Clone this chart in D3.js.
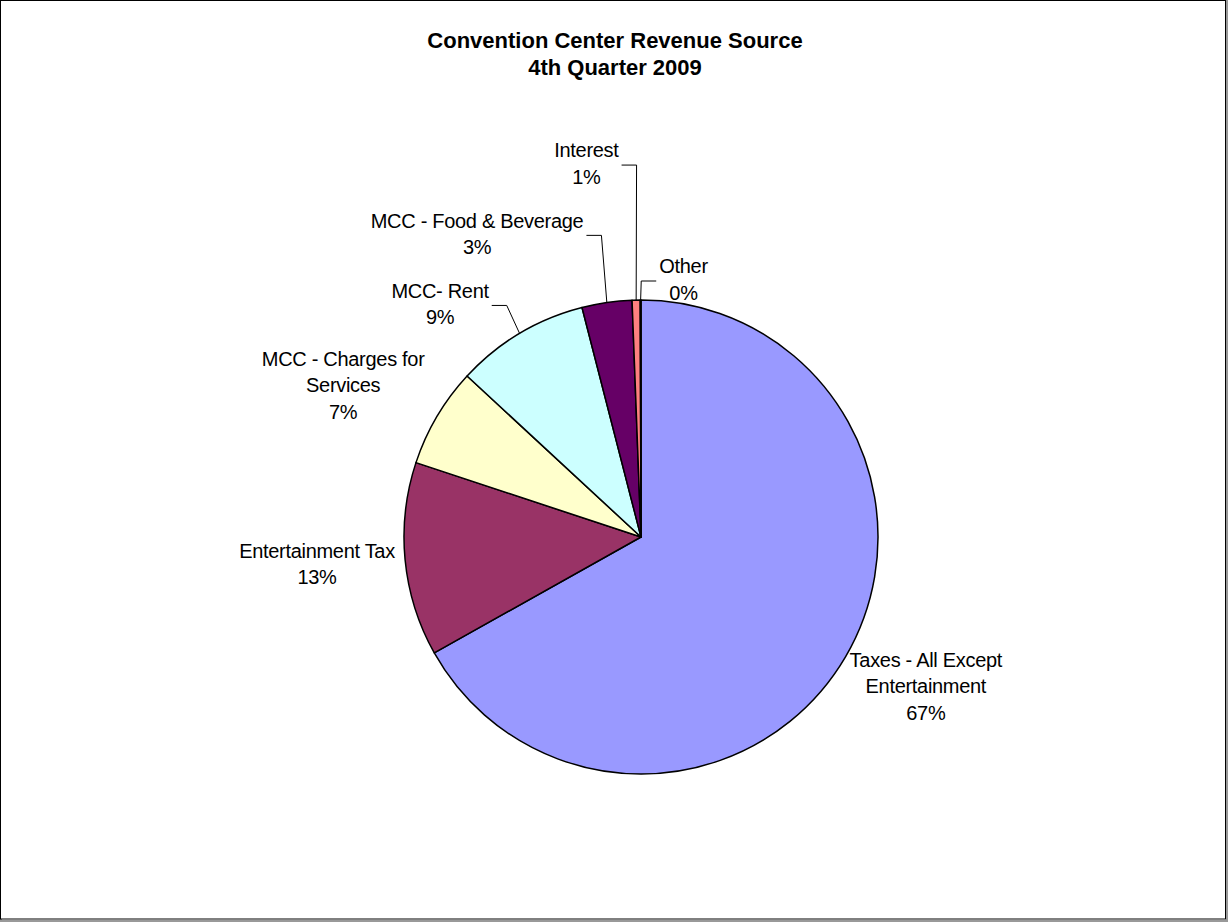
<!DOCTYPE html>
<html>
<head>
<meta charset="utf-8">
<script src="https://cdn.jsdelivr.net/npm/d3@7"></script>
<style>
  body { margin: 0; background: #ffffff; }
  svg text { font-family: "Liberation Sans", Arial, sans-serif; fill: #000; }
</style>
</head>
<body>
<div id="chart"></div>
<script>
// Data
const titleLines = ['Convention Center Revenue Source', '4th Quarter 2009'];
const categories = [
  'Taxes - All Except\nEntertainment',
  'Entertainment Tax',
  'MCC - Charges for\nServices',
  'MCC- Rent',
  'MCC - Food & Beverage',
  'Interest',
  'Other'
];
const values = [66.8, 13.2, 6.8, 9.1, 3.4, 0.55, 0.05];
const colors = ['#9999FF', '#993366', '#FFFFCC', '#CCFFFF', '#660066', '#FF8080', '#0066CC'];

// Layout
const width = 1228;
const height = 922;
const cx = 641, cy = 537, radius = 237;
const labelRadius = 322;
const lineHeight = 26.5;
// labels that were moved away from their default spot (dx, dy) and get a leader line
const labelNudge = [[7, -14], [-3.5, -4.5], [-20.5, 11.5], [-36, 43], [-117.5, 15], [-48, -52], [43, 64]];
const hasLeader = [false, false, false, true, true, true, true];

const svg = d3.select('#chart')
  .append('svg')
  .attr('width', width)
  .attr('height', height);

// Frame with a small shadow
svg.append('rect')
  .attr('x', 1).attr('y', 1)
  .attr('width', 1226).attr('height', 920)
  .attr('fill', 'none')
  .attr('stroke', '#999')
  .attr('stroke-width', 2);
svg.append('rect')
  .attr('x', 0.5).attr('y', 0.5)
  .attr('width', 1225).attr('height', 918.5)
  .attr('fill', '#fff')
  .attr('stroke', '#000')
  .attr('stroke-width', 1);

// Title
svg.append('text')
  .attr('x', 615)
  .attr('y', 48)
  .attr('text-anchor', 'middle')
  .attr('font-size', '22px')
  .attr('font-weight', 'bold')
  .selectAll('tspan')
  .data(titleLines)
  .join('tspan')
  .attr('x', 615)
  .attr('dy', (d, i) => i === 0 ? 0 : 27)
  .text(d => d);

const total = d3.sum(values);
const pie = d3.pie().sort(null).value(d => d);
const arcs = pie(values);

const arc = d3.arc().innerRadius(0).outerRadius(radius);
const labelArc = d3.arc().innerRadius(labelRadius).outerRadius(labelRadius);
const edgeArc = d3.arc().innerRadius(radius).outerRadius(radius);

const g = svg.append('g')
  .attr('transform', `translate(${cx},${cy})`);

// Slices
g.selectAll('path.slice')
  .data(arcs)
  .join('path')
  .attr('class', 'slice')
  .attr('d', arc)
  .attr('fill', (d, i) => colors[i])
  .attr('stroke', '#000')
  .attr('stroke-width', 1.5)
  .attr('stroke-linejoin', 'round');

// Labels
arcs.forEach((d, i) => {
  const c = labelArc.centroid(d);
  const lx = c[0] + labelNudge[i][0];
  const ly = c[1] + labelNudge[i][1];
  const lines = categories[i].split('\n').concat(`${Math.round(d.value / total * 100)}%`);

  const label = g.append('text')
    .attr('text-anchor', 'middle')
    .attr('font-size', '20px')
    .attr('letter-spacing', '-0.3px');

  label.selectAll('tspan')
    .data(lines)
    .join('tspan')
    .attr('x', lx)
    .attr('y', (t, k) => ly + (k - (lines.length - 1) / 2) * lineHeight + 7.5)
    .text(t => t);

  if (hasLeader[i]) {
    let w = 0;
    label.selectAll('tspan').each(function () {
      w = Math.max(w, this.getComputedTextLength());
    });
    const p = edgeArc.centroid(d);
    const side = p[0] > lx ? 1 : -1;
    const x0 = lx + side * (w / 2 + 3);
    const x1 = x0 + side * 15;
    g.append('path')
      .attr('fill', 'none')
      .attr('stroke', '#000')
      .attr('stroke-width', 1)
      .attr('d', d3.line()([[x0, ly + 2], [x1, ly + 2], p]));
  }
});
</script>
</body>
</html>
